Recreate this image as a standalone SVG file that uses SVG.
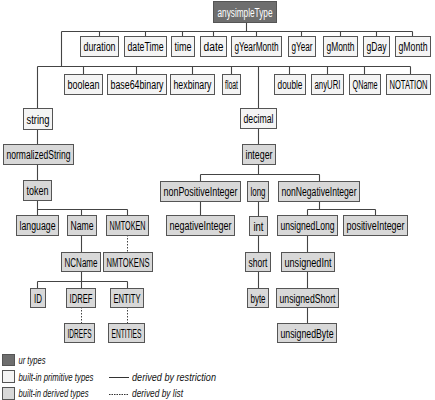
<svg xmlns="http://www.w3.org/2000/svg" width="435" height="400" viewBox="0 0 435 400">
<style>
.n rect.s{fill:#2b2b2b;stroke:none}
.n rect.b{stroke:#555;stroke-width:1}
.u rect.b{fill:#6e6e6e}
.p rect.b{fill:#f4f4f4}
.d rect.b{fill:#d8d8d8}
.n text{font-family:"Liberation Sans",Arial,sans-serif;font-size:12.5px;text-anchor:middle;fill:#000}
.u text{fill:#fff}
#conn path{fill:none;stroke:#444;stroke-width:1.1}
#conn path.dot{stroke-dasharray:1.5,1.5;stroke-width:1}
.lg{font-family:"Liberation Sans",Arial,sans-serif;font-size:11px;font-style:italic;fill:#111}
</style>
<rect width="435" height="400" fill="#fff"/>
<g id="conn">
<path d="M246.5 22V31.5M61.5 31.5H412.5M99.5 31.5V36M145.5 31.5V36M182.5 31.5V36M213.5 31.5V36M256.5 31.5V36M301.5 31.5V36M340.5 31.5V36M376.5 31.5V36M412.5 31.5V36"/>
<path d="M61.5 31.5V66.5M37.5 66.5H410.5M83.5 66.5V74M136.5 66.5V74M192.5 66.5V74M231.5 66.5V74M289.5 66.5V74M327.5 66.5V74M364.5 66.5V74M410.5 66.5V74"/>
<path d="M37.5 66.5V108M37.5 129V144M37.5 164V180M37.5 200V209.5M37.5 209.5H127.5M37.5 209.5V215M81.5 209.5V215M127.5 209.5V215"/>
<path d="M81.5 235V252M81.5 271V281.5M37.5 281.5H127.5M37.5 281.5V288M81.5 281.5V288M127.5 281.5V288"/>
<path class="dot" d="M127.5 235V252M81.5 307V323M127.5 307V323"/>
<path d="M258.5 66.5V108M258.5 128V144M258.5 164V174.5M200.5 174.5H319.5M200.5 174.5V181M319.5 174.5V181"/>
<path d="M200.5 201V215M258.5 201V216M258.5 235V252M258.5 271V288"/>
<path d="M319.5 201V209.5M307.5 209.5H375.5M307.5 209.5V215M375.5 209.5V215M307.5 235V252M307.5 271V288M307.5 307V323"/>
</g>
<g id="anysimpleType" class="n u"><rect class="s" x="214" y="2" width="63" height="21"/><rect class="b" x="213.5" y="1.5" width="63" height="21"/><text x="245" y="16.5" textLength="55" lengthAdjust="spacingAndGlyphs">anysimpleType</text></g>
<g id="duration" class="n p"><rect class="s" x="81" y="37" width="38" height="20"/><rect class="b" x="80.5" y="36.5" width="38" height="20"/><text x="99.5" y="51" textLength="32" lengthAdjust="spacingAndGlyphs">duration</text></g>
<g id="dateTime" class="n p"><rect class="s" x="125" y="37" width="42" height="20"/><rect class="b" x="124.5" y="36.5" width="42" height="20"/><text x="145.5" y="51" textLength="36" lengthAdjust="spacingAndGlyphs">dateTime</text></g>
<g id="time" class="n p"><rect class="s" x="172" y="37" width="23" height="20"/><rect class="b" x="171.5" y="36.5" width="23" height="20"/><text x="183" y="51" textLength="17" lengthAdjust="spacingAndGlyphs">time</text></g>
<g id="date" class="n p"><rect class="s" x="201" y="37" width="26" height="20"/><rect class="b" x="200.5" y="36.5" width="26" height="20"/><text x="213.5" y="51" textLength="20" lengthAdjust="spacingAndGlyphs">date</text></g>
<g id="gYearMonth" class="n p"><rect class="s" x="232" y="37" width="50" height="20"/><rect class="b" x="231.5" y="36.5" width="50" height="20"/><text x="256.5" y="51" textLength="44" lengthAdjust="spacingAndGlyphs">gYearMonth</text></g>
<g id="gYear" class="n p"><rect class="s" x="289" y="37" width="27" height="20"/><rect class="b" x="288.5" y="36.5" width="27" height="20"/><text x="302" y="51" textLength="21" lengthAdjust="spacingAndGlyphs">gYear</text></g>
<g id="gMonth" class="n p"><rect class="s" x="324" y="37" width="34" height="20"/><rect class="b" x="323.5" y="36.5" width="34" height="20"/><text x="340.5" y="51" textLength="28" lengthAdjust="spacingAndGlyphs">gMonth</text></g>
<g id="gDay" class="n p"><rect class="s" x="364" y="37" width="26" height="20"/><rect class="b" x="363.5" y="36.5" width="26" height="20"/><text x="376.5" y="51" textLength="20" lengthAdjust="spacingAndGlyphs">gDay</text></g>
<g id="gMonth2" class="n p"><rect class="s" x="396" y="37" width="35" height="20"/><rect class="b" x="395.5" y="36.5" width="35" height="20"/><text x="413" y="51" textLength="29" lengthAdjust="spacingAndGlyphs">gMonth</text></g>
<g id="boolean" class="n p"><rect class="s" x="65" y="75" width="38" height="20"/><rect class="b" x="64.5" y="74.5" width="38" height="20"/><text x="83.5" y="89" textLength="32" lengthAdjust="spacingAndGlyphs">boolean</text></g>
<g id="base64binary" class="n p"><rect class="s" x="108" y="75" width="59" height="20"/><rect class="b" x="107.5" y="74.5" width="59" height="20"/><text x="137" y="89" textLength="53" lengthAdjust="spacingAndGlyphs">base64binary</text></g>
<g id="hexbinary" class="n p"><rect class="s" x="171" y="75" width="44" height="20"/><rect class="b" x="170.5" y="74.5" width="44" height="20"/><text x="192.5" y="89" textLength="38" lengthAdjust="spacingAndGlyphs">hexbinary</text></g>
<g id="float" class="n p"><rect class="s" x="223" y="75" width="18" height="20"/><rect class="b" x="222.5" y="74.5" width="18" height="20"/><text x="231.5" y="89" textLength="13" lengthAdjust="spacingAndGlyphs">float</text></g>
<g id="double" class="n p"><rect class="s" x="275" y="75" width="31" height="20"/><rect class="b" x="274.5" y="74.5" width="31" height="20"/><text x="290" y="89" textLength="25" lengthAdjust="spacingAndGlyphs">double</text></g>
<g id="anyURI" class="n p"><rect class="s" x="312" y="75" width="32" height="20"/><rect class="b" x="311.5" y="74.5" width="32" height="20"/><text x="327.5" y="89" textLength="26" lengthAdjust="spacingAndGlyphs">anyURI</text></g>
<g id="QName" class="n p"><rect class="s" x="350" y="75" width="31" height="20"/><rect class="b" x="349.5" y="74.5" width="31" height="20"/><text x="365" y="89" textLength="25" lengthAdjust="spacingAndGlyphs">QName</text></g>
<g id="NOTATION" class="n p"><rect class="s" x="387" y="75" width="44" height="20"/><rect class="b" x="386.5" y="74.5" width="44" height="20"/><text x="408.5" y="89" textLength="38" lengthAdjust="spacingAndGlyphs">NOTATION</text></g>
<g id="string" class="n p"><rect class="s" x="24" y="109" width="29" height="21"/><rect class="b" x="23.5" y="108.5" width="29" height="21"/><text x="38" y="123.5" textLength="23" lengthAdjust="spacingAndGlyphs">string</text></g>
<g id="decimal" class="n p"><rect class="s" x="241" y="109" width="36" height="20"/><rect class="b" x="240.5" y="108.5" width="36" height="20"/><text x="258.5" y="123" textLength="30" lengthAdjust="spacingAndGlyphs">decimal</text></g>
<g id="normalizedString" class="n d"><rect class="s" x="4" y="145" width="70" height="20"/><rect class="b" x="3.5" y="144.5" width="70" height="20"/><text x="38.5" y="159" textLength="64" lengthAdjust="spacingAndGlyphs">normalizedString</text></g>
<g id="integer" class="n d"><rect class="s" x="243" y="145" width="33" height="20"/><rect class="b" x="242.5" y="144.5" width="33" height="20"/><text x="259" y="159" textLength="27" lengthAdjust="spacingAndGlyphs">integer</text></g>
<g id="token" class="n d"><rect class="s" x="24" y="181" width="28" height="20"/><rect class="b" x="23.5" y="180.5" width="28" height="20"/><text x="37.5" y="195" textLength="22" lengthAdjust="spacingAndGlyphs">token</text></g>
<g id="nonPositiveInteger" class="n d"><rect class="s" x="161" y="182" width="80" height="20"/><rect class="b" x="160.5" y="181.5" width="80" height="20"/><text x="200.5" y="196" textLength="74" lengthAdjust="spacingAndGlyphs">nonPositiveInteger</text></g>
<g id="long" class="n d"><rect class="s" x="248" y="182" width="21" height="20"/><rect class="b" x="247.5" y="181.5" width="21" height="20"/><text x="258" y="196" textLength="15" lengthAdjust="spacingAndGlyphs">long</text></g>
<g id="nonNegativeInteger" class="n d"><rect class="s" x="279" y="182" width="81" height="20"/><rect class="b" x="278.5" y="181.5" width="81" height="20"/><text x="319" y="196" textLength="75" lengthAdjust="spacingAndGlyphs">nonNegativeInteger</text></g>
<g id="language" class="n d"><rect class="s" x="17" y="216" width="42" height="20"/><rect class="b" x="16.5" y="215.5" width="42" height="20"/><text x="37.5" y="230" textLength="36" lengthAdjust="spacingAndGlyphs">language</text></g>
<g id="Name" class="n d"><rect class="s" x="68" y="216" width="29" height="20"/><rect class="b" x="67.5" y="215.5" width="29" height="20"/><text x="82" y="230" textLength="23" lengthAdjust="spacingAndGlyphs">Name</text></g>
<g id="NMTOKEN" class="n d"><rect class="s" x="107" y="216" width="42" height="20"/><rect class="b" x="106.5" y="215.5" width="42" height="20"/><text x="127.5" y="230" textLength="36" lengthAdjust="spacingAndGlyphs">NMTOKEN</text></g>
<g id="negativeInteger" class="n d"><rect class="s" x="167" y="216" width="68" height="20"/><rect class="b" x="166.5" y="215.5" width="68" height="20"/><text x="200.5" y="230" textLength="62" lengthAdjust="spacingAndGlyphs">negativeInteger</text></g>
<g id="int" class="n d"><rect class="s" x="250" y="217" width="18" height="19"/><rect class="b" x="249.5" y="216.5" width="18" height="19"/><text x="258.5" y="230.5" textLength="10" lengthAdjust="spacingAndGlyphs">int</text></g>
<g id="unsignedLong" class="n d"><rect class="s" x="278" y="216" width="60" height="20"/><rect class="b" x="277.5" y="215.5" width="60" height="20"/><text x="307.5" y="230" textLength="54" lengthAdjust="spacingAndGlyphs">unsignedLong</text></g>
<g id="positiveInteger" class="n d"><rect class="s" x="344" y="216" width="64" height="20"/><rect class="b" x="343.5" y="215.5" width="64" height="20"/><text x="375.5" y="230" textLength="58" lengthAdjust="spacingAndGlyphs">positiveInteger</text></g>
<g id="NCName" class="n d"><rect class="s" x="62" y="253" width="39" height="19"/><rect class="b" x="61.5" y="252.5" width="39" height="19"/><text x="81" y="266.5" textLength="33" lengthAdjust="spacingAndGlyphs">NCName</text></g>
<g id="NMTOKENS" class="n d"><rect class="s" x="104" y="253" width="49" height="19"/><rect class="b" x="103.5" y="252.5" width="49" height="19"/><text x="128" y="266.5" textLength="43" lengthAdjust="spacingAndGlyphs">NMTOKENS</text></g>
<g id="short" class="n d"><rect class="s" x="246" y="253" width="25" height="19"/><rect class="b" x="245.5" y="252.5" width="25" height="19"/><text x="258" y="266.5" textLength="19" lengthAdjust="spacingAndGlyphs">short</text></g>
<g id="unsignedInt" class="n d"><rect class="s" x="282" y="253" width="53" height="19"/><rect class="b" x="281.5" y="252.5" width="53" height="19"/><text x="308" y="266.5" textLength="47" lengthAdjust="spacingAndGlyphs">unsignedInt</text></g>
<g id="ID" class="n d"><rect class="s" x="31" y="289" width="15" height="19"/><rect class="b" x="30.5" y="288.5" width="15" height="19"/><text x="38" y="302.5" textLength="8" lengthAdjust="spacingAndGlyphs">ID</text></g>
<g id="IDREF" class="n d"><rect class="s" x="67" y="289" width="29" height="19"/><rect class="b" x="66.5" y="288.5" width="29" height="19"/><text x="81" y="302.5" textLength="23" lengthAdjust="spacingAndGlyphs">IDREF</text></g>
<g id="ENTITY" class="n d"><rect class="s" x="111" y="289" width="33" height="19"/><rect class="b" x="110.5" y="288.5" width="33" height="19"/><text x="127" y="302.5" textLength="27" lengthAdjust="spacingAndGlyphs">ENTITY</text></g>
<g id="byte" class="n d"><rect class="s" x="248" y="289" width="21" height="19"/><rect class="b" x="247.5" y="288.5" width="21" height="19"/><text x="258" y="302.5" textLength="15" lengthAdjust="spacingAndGlyphs">byte</text></g>
<g id="unsignedShort" class="n d"><rect class="s" x="277" y="289" width="62" height="19"/><rect class="b" x="276.5" y="288.5" width="62" height="19"/><text x="307.5" y="302.5" textLength="56" lengthAdjust="spacingAndGlyphs">unsignedShort</text></g>
<g id="IDREFS" class="n d"><rect class="s" x="65" y="324" width="30" height="19"/><rect class="b" x="64.5" y="323.5" width="30" height="19"/><text x="79.5" y="337.5" textLength="24" lengthAdjust="spacingAndGlyphs">IDREFS</text></g>
<g id="ENTITIES" class="n d"><rect class="s" x="109" y="324" width="36" height="19"/><rect class="b" x="108.5" y="323.5" width="36" height="19"/><text x="126.5" y="337.5" textLength="30" lengthAdjust="spacingAndGlyphs">ENTITIES</text></g>
<g id="unsignedByte" class="n d"><rect class="s" x="278" y="324" width="59" height="19"/><rect class="b" x="277.5" y="323.5" width="59" height="19"/><text x="307" y="337.5" textLength="53" lengthAdjust="spacingAndGlyphs">unsignedByte</text></g>
<g id="legend">
<g class="n u"><rect class="s" x="3" y="355" width="12" height="11"/><rect class="b" x="2.5" y="354.5" width="12" height="11"/></g>
<g class="n p"><rect class="s" x="3" y="371" width="12" height="12"/><rect class="b" x="2.5" y="370.5" width="12" height="12"/></g>
<g class="n d"><rect class="s" x="3" y="388" width="12" height="12"/><rect class="b" x="2.5" y="387.5" width="12" height="12"/></g>
<text class="lg" x="18.5" y="363.5" textLength="27" lengthAdjust="spacingAndGlyphs">ur types</text>
<text class="lg" x="18.5" y="380.5" textLength="75" lengthAdjust="spacingAndGlyphs">built-in primitive types</text>
<text class="lg" x="18.5" y="397" textLength="70" lengthAdjust="spacingAndGlyphs">built-in derived types</text>
<path d="M109 377.5H129" stroke="#333" stroke-width="1"/>
<path d="M109 394.5H129" stroke="#333" stroke-width="1" stroke-dasharray="1.5,1"/>
<text class="lg" x="132" y="380.5" textLength="84" lengthAdjust="spacingAndGlyphs">derived by restriction</text>
<text class="lg" x="132" y="397" textLength="51" lengthAdjust="spacingAndGlyphs">derived by list</text>
</g>
</svg>
